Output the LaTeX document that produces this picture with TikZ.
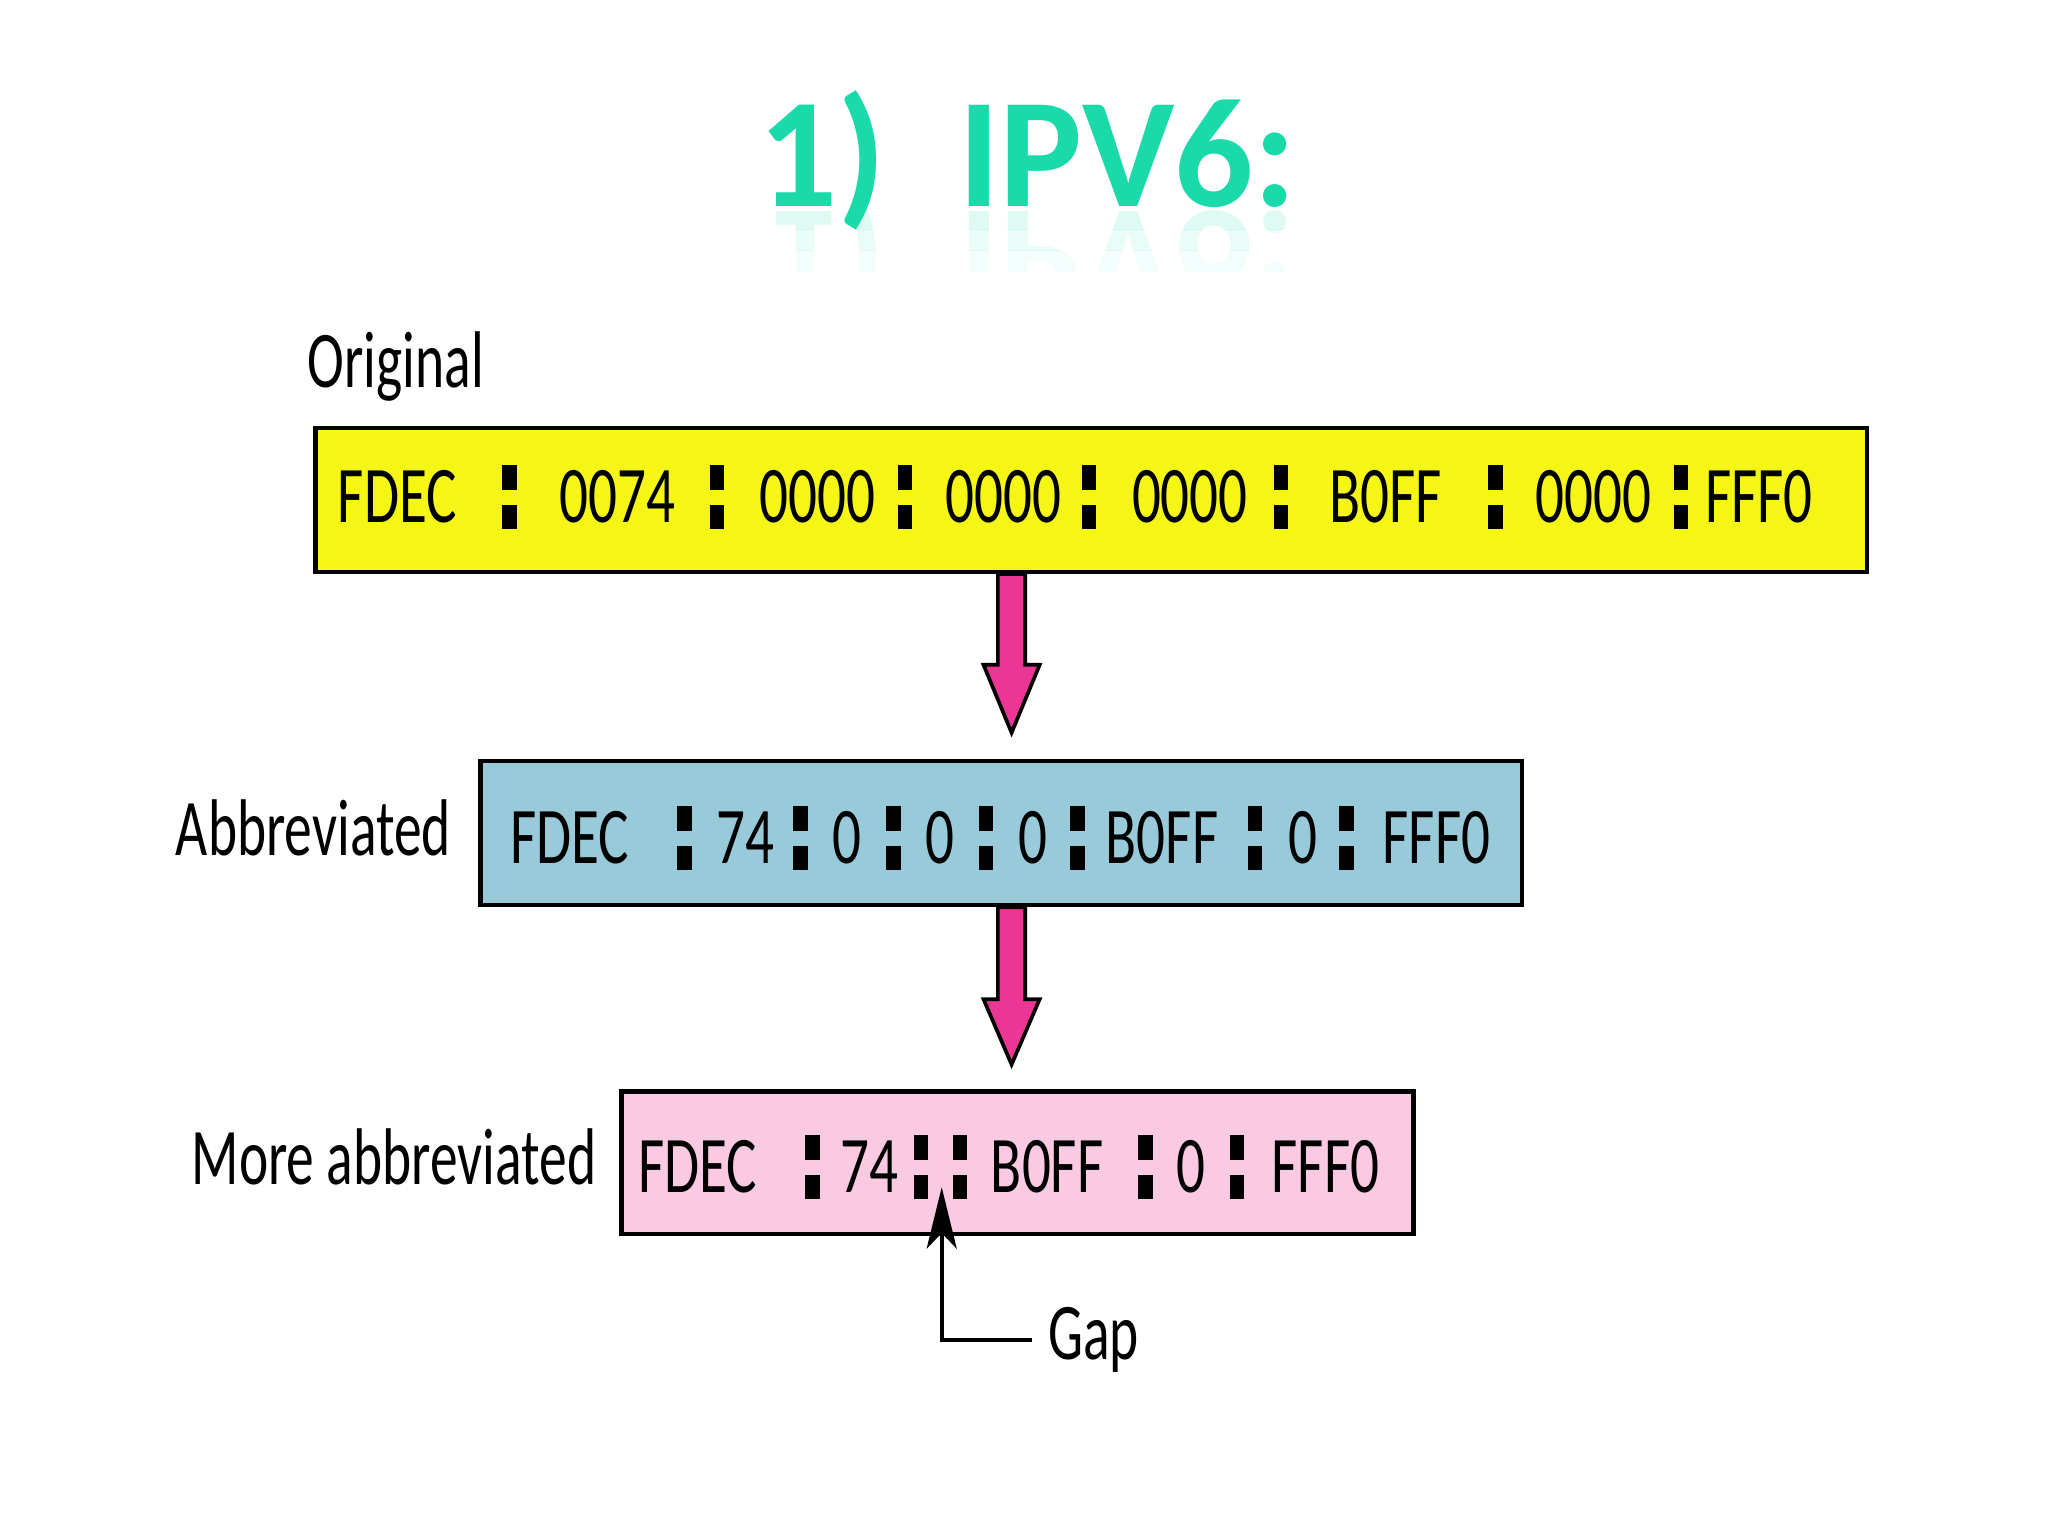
\documentclass[tikz,border=0pt]{standalone}
\usepackage{fontspec}
\setmainfont{Carlito}[FakeStretch=0.71]
\newfontfamily\titlefont{Carlito}
\newfontfamily\labelfont{Carlito}[FakeStretch=0.69]
\usetikzlibrary{arrows.meta}

\definecolor{addryellow}{RGB}{245,245,22}
\definecolor{addrblue}{RGB}{152,202,218}
\definecolor{addrpink}{RGB}{250,202,226}
\definecolor{arrowpink}{RGB}{236,54,150}
\definecolor{titleteal}{RGB}{26,218,170}

% heavy square colon of the address fields
\newcommand{\cln}{\makebox[1.1mm][l]{\rlap{\rule[2.5mm]{1.1mm}{1.9mm}}\rule[-0.5mm]{1.1mm}{1.8mm}}}

\tikzset{
    addrbox/.style={draw=black, line width=1pt, inner sep=0pt, anchor=north west},
    field/.style={anchor=base west, inner sep=0pt, font=\fontsize{17.5}{20}\selectfont},
    sep/.style={anchor=base, inner sep=0pt},
    rowlabel/.style={anchor=base west, inner sep=0pt, font=\labelfont\fontsize{17.5}{20}\selectfont},
    fatarrow/.style={fill=arrowpink, draw=black, line width=0.8pt, line join=miter},
    gapline/.style={line width=0.9pt, -{Stealth[length=4.7mm, width=2.3mm, inset=1.2mm]}},
    titletext/.style={anchor=base west, inner sep=0pt, text=titleteal,
        font=\titlefont\bfseries\fontsize{34}{40}\selectfont},
}

\begin{document}
\begin{tikzpicture}[x=0.01cm, y=-0.01cm]
    \useasboundingbox (0, 0) rectangle (1568, 1176);

    % title and its fading reflection
    \node[titletext] (title) at (580, 158) {1)\hspace{5.5mm}IPV6:};
    \foreach \ya/\yb/\op [count=\i] in {160/176/0.14, 176/192/0.09, 192/208/0.05} {
        \begin{scope}
            \clip (560, \ya) rectangle (1010, \yb);
            \node[titletext, yscale=-1, opacity=\op] (mirror\i) at (580, 162) {1)\hspace{5.5mm}IPV6:};
        \end{scope}
    }

    % boxes
    \node[addrbox, fill=addryellow, minimum width=11.87cm, minimum height=1.10cm] (orig) at (240, 326) {};
    \node[addrbox, fill=addrblue, minimum width=7.97cm, minimum height=1.10cm] (abbr) at (366, 581) {};
    \node[addrbox, fill=addrpink, minimum width=6.06cm, minimum height=1.09cm] (more) at (474, 834) {};

    % row labels
    \node[rowlabel] (origlbl) at (235, 297) {Original};
    \node[rowlabel] (abbrlbl) at (134, 655) {Abbreviated};
    \node[rowlabel] (morelbl) at (146, 907) {More abbreviated};

    % original address
    \foreach \x/\t [count=\i] in {258/FDEC, 428/0074, 581/0000, 723/0000, 866/0000, 1017/B0FF, 1175/0000, 1305/FFF0}
        \node[field] (o\i) at (\x, 400) {\t};
    \foreach \x [count=\i] in {390, 549, 693, 834, 981, 1145, 1287}
        \node[sep] (oc\i) at (\x, 400) {\cln};

    % abbreviated address
    \foreach \x/\t [count=\i] in {390/FDEC, 548/74, 637/0, 708/0, 779/0, 846/B0FF, 986/0, 1058/FFF0}
        \node[field] (a\i) at (\x, 661) {\t};
    \foreach \x [count=\i] in {524, 613, 684, 755, 825, 961, 1031}
        \node[sep] (ac\i) at (\x, 661) {\cln};

    % more abbreviated address
    \foreach \x/\t [count=\i] in {488/FDEC, 643/74, 758/B0FF, 900/0, 973/FFF0}
        \node[field] (m\i) at (\x, 913) {\t};
    \foreach \x [count=\i] in {622, 705, 735, 877, 947}
        \node[sep] (mc\i) at (\x, 913) {\cln};

    % fat arrows between the rows
    \foreach \src/\top/\tip [count=\i] in {orig/509/561, abbr/765/815} {
        \coordinate (sl\i) at (764, \top);
        \coordinate (sr\i) at (785, \top);
        \coordinate (hl\i) at (753, \top);
        \coordinate (hr\i) at (796, \top);
        \coordinate (tp\i) at (774.5, \tip);
        \draw[fatarrow] (\src.south -| sl\i) -- (sl\i) -- (hl\i) -- (tp\i) -- (hr\i) -- (sr\i) -- (\src.south -| sr\i) -- cycle;
    }

    % gap pointer
    \node[rowlabel] (gap) at (802, 1041) {Gap};
    \coordinate (gaptip) at (721, 909);
    \draw[gapline] ([xshift=-1.2mm]gap.west) -| (gaptip);
\end{tikzpicture}
\end{document}
